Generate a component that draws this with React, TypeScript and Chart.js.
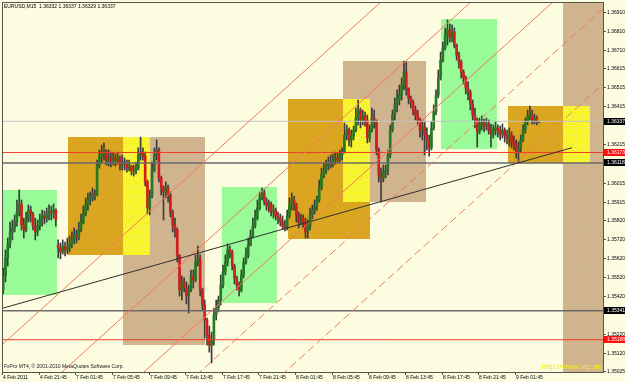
import React, { useEffect, useRef } from 'react';
import { Chart, registerables } from 'chart.js';

Chart.register(...registerables);

const symbolTitle = 'EURUSD,M15  1.36332 1.36337 1.36329 1.36337';
const copyrightText = 'FxPro MT4, \u00A9 2001-2010 MetaQuotes Software Corp.';
const watermarkText = 'http://www.vip.ae';

const timeLabels = ['4 Feb 2011', '4 Feb 21:45', '7 Feb 01:45', '7 Feb 05:45', '7 Feb 09:45', '7 Feb 13:45', '7 Feb 17:45', '7 Feb 21:45', '8 Feb 01:45', '8 Feb 05:45', '8 Feb 09:45', '8 Feb 13:45', '8 Feb 17:45', '8 Feb 21:45', '9 Feb 01:45'];
const timeLabelBars = [0, 16, 32, 48, 64, 80, 96, 112, 128, 144, 160, 176, 192, 208, 224];

const priceTicks = [1.36910, 1.36810, 1.36710, 1.36615, 1.36515, 1.36415, 1.36215, 1.36015, 1.35915, 1.35820, 1.35720, 1.35620, 1.35520, 1.35420, 1.35220, 1.35120, 1.35025];

const opens = [
  1.35450,1.35523,1.35618,1.35692,1.35755,1.35776,1.35807,1.35860,1.35902,1.35792,
  1.35765,1.35818,1.35870,1.35849,1.35786,1.35755,1.35786,1.35818,1.35839,1.35828,
  1.35849,1.35860,1.35855,1.35870,1.35686,1.35671,1.35650,1.35681,1.35660,1.35676,
  1.35692,1.35713,1.35734,1.35723,1.35765,1.35807,1.35849,1.35897,1.35923,1.35934,
  1.35955,1.35949,1.36107,1.36154,1.36165,1.36186,1.36133,1.36149,1.36123,1.36144,
  1.36133,1.36144,1.36107,1.36123,1.36112,1.36091,1.36102,1.36076,1.36081,1.36091,
  1.36160,1.36175,1.36154,1.36018,1.35881,1.35944,1.36081,1.36160,1.36186,1.36039,
  1.35986,1.35965,1.35986,1.35949,1.35860,1.35792,1.35765,1.35634,1.35450,1.35492,
  1.35460,1.35418,1.35450,1.35523,1.35502,1.35597,1.35618,1.35450,1.35371,1.35292,
  1.35213,1.35160,1.35187,1.35318,1.35355,1.35397,1.35476,1.35544,1.35597,1.35660,
  1.35650,1.35576,1.35513,1.35476,1.35450,1.35529,1.35597,1.35634,1.35686,1.35734,
  1.35786,1.35828,1.35881,1.35934,1.35960,1.35912,1.35891,1.35902,1.35860,1.35870,
  1.35839,1.35828,1.35807,1.35786,1.35776,1.35839,1.35897,1.35923,1.35902,1.35844,
  1.35807,1.35828,1.35807,1.35755,1.35786,1.35844,1.35870,1.35891,1.35923,1.35986,
  1.36055,1.36081,1.36102,1.36123,1.36107,1.36133,1.36144,1.36133,1.36160,1.36175,
  1.36265,1.36291,1.36239,1.36260,1.36291,1.36354,1.36396,1.36344,1.36365,1.36344,
  1.36249,1.36291,1.36354,1.36333,1.36186,1.36055,1.36039,1.36070,1.36081,1.36160,
  1.36291,1.36370,1.36423,1.36449,1.36475,1.36528,1.36596,1.36512,1.36460,1.36438,
  1.36396,1.36370,1.36344,1.36291,1.36312,1.36265,1.36239,1.36197,1.36302,1.36386,
  1.36475,1.36565,1.36659,1.36723,1.36791,1.36817,1.36775,1.36807,1.36738,1.36686,
  1.36649,1.36596,1.36565,1.36512,1.36491,1.36428,1.36370,1.36344,1.36281,1.36323,
  1.36333,1.36312,1.36323,1.36291,1.36270,1.36291,1.36302,1.36286,1.36270,1.36291,
  1.36260,1.36249,1.36265,1.36228,1.36212,1.36175,1.36197,1.36239,1.36291,1.36333,
  1.36365,1.36370,1.36344,1.36354,1.36332,
];

const highs = [
  1.35565,1.35660,1.35723,1.35807,1.35818,1.35844,1.35923,1.35976,1.35923,1.35828,
  1.35860,1.35897,1.35891,1.35860,1.35828,1.35818,1.35849,1.35870,1.35865,1.35881,
  1.35897,1.35891,1.35902,1.35876,1.35713,1.35697,1.35713,1.35702,1.35723,1.35734,
  1.35755,1.35776,1.35765,1.35807,1.35849,1.35891,1.35934,1.35960,1.35965,1.35986,
  1.35976,1.36133,1.36186,1.36212,1.36223,1.36186,1.36186,1.36175,1.36170,1.36165,
  1.36175,1.36154,1.36160,1.36144,1.36133,1.36133,1.36107,1.36107,1.36123,1.36197,
  1.36254,1.36197,1.36175,1.36028,1.35976,1.36123,1.36197,1.36239,1.36197,1.36049,
  1.35997,1.36018,1.36002,1.35965,1.35870,1.35828,1.35776,1.35634,1.35523,1.35513,
  1.35492,1.35476,1.35555,1.35555,1.35634,1.35681,1.35634,1.35460,1.35397,1.35302,
  1.35260,1.35229,1.35355,1.35397,1.35418,1.35529,1.35581,1.35634,1.35692,1.35681,
  1.35660,1.35586,1.35523,1.35492,1.35555,1.35618,1.35671,1.35723,1.35765,1.35828,
  1.35870,1.35923,1.35965,1.35986,1.35976,1.35934,1.35923,1.35912,1.35897,1.35881,
  1.35860,1.35849,1.35839,1.35818,1.35870,1.35934,1.35960,1.35944,1.35907,1.35860,
  1.35849,1.35844,1.35828,1.35818,1.35881,1.35897,1.35923,1.35944,1.36028,1.36091,
  1.36118,1.36133,1.36149,1.36160,1.36165,1.36175,1.36170,1.36186,1.36197,1.36328,
  1.36318,1.36302,1.36291,1.36312,1.36407,1.36449,1.36407,1.36396,1.36386,1.36370,
  1.36318,1.36407,1.36396,1.36344,1.36197,1.36091,1.36107,1.36107,1.36186,1.36318,
  1.36396,1.36460,1.36502,1.36528,1.36565,1.36654,1.36649,1.36512,1.36470,1.36449,
  1.36417,1.36396,1.36354,1.36344,1.36333,1.36302,1.36265,1.36333,1.36423,1.36502,
  1.36607,1.36701,1.36754,1.36828,1.36870,1.36849,1.36844,1.36828,1.36744,1.36701,
  1.36659,1.36607,1.36575,1.36544,1.36502,1.36449,1.36407,1.36354,1.36354,1.36365,
  1.36349,1.36354,1.36344,1.36323,1.36318,1.36333,1.36318,1.36312,1.36323,1.36302,
  1.36291,1.36302,1.36281,1.36260,1.36239,1.36228,1.36265,1.36318,1.36354,1.36396,
  1.36417,1.36396,1.36375,1.36365,1.36337,
];

const lows = [
  1.35429,1.35492,1.35576,1.35671,1.35713,1.35755,1.35786,1.35839,1.35765,1.35723,
  1.35755,1.35807,1.35807,1.35765,1.35713,1.35734,1.35765,1.35786,1.35797,1.35807,
  1.35818,1.35818,1.35828,1.35786,1.35618,1.35613,1.35639,1.35629,1.35639,1.35650,
  1.35671,1.35692,1.35697,1.35713,1.35755,1.35797,1.35839,1.35870,1.35897,1.35918,
  1.35923,1.35944,1.36091,1.36123,1.36133,1.36107,1.36102,1.36097,1.36107,1.36102,
  1.36112,1.36081,1.36081,1.36081,1.36070,1.36076,1.36055,1.36049,1.36060,1.36081,
  1.36133,1.36133,1.35997,1.35849,1.35844,1.35934,1.36070,1.36133,1.36018,1.35949,
  1.35818,1.35934,1.35912,1.35834,1.35755,1.35728,1.35597,1.35418,1.35397,1.35439,
  1.35376,1.35329,1.35439,1.35460,1.35492,1.35576,1.35418,1.35344,1.35197,1.35160,
  1.35123,1.35066,1.35160,1.35292,1.35334,1.35371,1.35460,1.35529,1.35576,1.35618,
  1.35555,1.35481,1.35450,1.35418,1.35439,1.35513,1.35586,1.35618,1.35681,1.35723,
  1.35776,1.35818,1.35870,1.35923,1.35897,1.35870,1.35860,1.35839,1.35828,1.35818,
  1.35797,1.35786,1.35771,1.35760,1.35765,1.35828,1.35870,1.35870,1.35807,1.35776,
  1.35792,1.35776,1.35723,1.35723,1.35765,1.35818,1.35849,1.35870,1.35912,1.35976,
  1.36039,1.36060,1.36081,1.36091,1.36097,1.36112,1.36118,1.36123,1.36133,1.36170,
  1.36239,1.36207,1.36202,1.36239,1.36281,1.36318,1.36302,1.36318,1.36312,1.36223,
  1.36228,1.36281,1.36302,1.36160,1.36018,1.35912,1.36018,1.36039,1.36055,1.36144,
  1.36281,1.36344,1.36386,1.36423,1.36449,1.36502,1.36475,1.36428,1.36407,1.36370,
  1.36344,1.36318,1.36254,1.36239,1.36160,1.36186,1.36154,1.36186,1.36291,1.36370,
  1.36460,1.36554,1.36649,1.36712,1.36738,1.36754,1.36754,1.36723,1.36659,1.36617,
  1.36565,1.36533,1.36481,1.36449,1.36396,1.36344,1.36302,1.36202,1.36270,1.36291,
  1.36281,1.36291,1.36270,1.36202,1.36249,1.36265,1.36254,1.36239,1.36249,1.36228,
  1.36218,1.36207,1.36197,1.36186,1.36144,1.36118,1.36175,1.36228,1.36275,1.36318,
  1.36344,1.36323,1.36323,1.36318,1.36329,
];

const closes = [
  1.35523,1.35618,1.35692,1.35755,1.35776,1.35807,1.35860,1.35902,1.35792,1.35765,
  1.35818,1.35870,1.35849,1.35786,1.35755,1.35786,1.35818,1.35839,1.35828,1.35849,
  1.35860,1.35855,1.35870,1.35818,1.35671,1.35650,1.35681,1.35660,1.35676,1.35692,
  1.35713,1.35734,1.35723,1.35765,1.35807,1.35849,1.35897,1.35923,1.35934,1.35955,
  1.35949,1.36107,1.36154,1.36165,1.36186,1.36133,1.36149,1.36123,1.36144,1.36133,
  1.36144,1.36107,1.36123,1.36112,1.36091,1.36102,1.36076,1.36081,1.36091,1.36160,
  1.36175,1.36154,1.36018,1.35881,1.35944,1.36081,1.36160,1.36186,1.36039,1.35986,
  1.35965,1.35986,1.35949,1.35860,1.35792,1.35765,1.35634,1.35450,1.35492,1.35460,
  1.35418,1.35450,1.35523,1.35502,1.35597,1.35618,1.35450,1.35371,1.35292,1.35213,
  1.35160,1.35187,1.35318,1.35355,1.35397,1.35476,1.35544,1.35597,1.35660,1.35650,
  1.35576,1.35513,1.35476,1.35450,1.35529,1.35597,1.35634,1.35686,1.35734,1.35786,
  1.35828,1.35881,1.35934,1.35960,1.35912,1.35891,1.35902,1.35860,1.35870,1.35839,
  1.35828,1.35807,1.35786,1.35776,1.35839,1.35897,1.35923,1.35902,1.35844,1.35807,
  1.35828,1.35807,1.35755,1.35786,1.35844,1.35870,1.35891,1.35923,1.35986,1.36055,
  1.36081,1.36102,1.36123,1.36107,1.36133,1.36144,1.36133,1.36160,1.36175,1.36265,
  1.36291,1.36239,1.36260,1.36291,1.36354,1.36396,1.36344,1.36365,1.36344,1.36249,
  1.36291,1.36354,1.36333,1.36186,1.36055,1.36039,1.36070,1.36081,1.36160,1.36291,
  1.36370,1.36423,1.36449,1.36475,1.36528,1.36596,1.36512,1.36460,1.36438,1.36396,
  1.36370,1.36344,1.36291,1.36312,1.36265,1.36239,1.36197,1.36302,1.36386,1.36475,
  1.36565,1.36659,1.36723,1.36791,1.36817,1.36775,1.36807,1.36738,1.36686,1.36649,
  1.36596,1.36565,1.36512,1.36491,1.36428,1.36370,1.36344,1.36281,1.36323,1.36333,
  1.36312,1.36323,1.36291,1.36270,1.36291,1.36302,1.36286,1.36270,1.36291,1.36260,
  1.36249,1.36265,1.36228,1.36212,1.36175,1.36197,1.36239,1.36291,1.36333,1.36365,
  1.36370,1.36344,1.36354,1.36332,1.36337,
];

// session zones (bar index range, price range)
const zoneStart = [-1, 95.5, 191.2, 28.3, 124.4, 220.4, 52.3, 148.4, 244.3, 52.3, 148.4, 244.3];
const zoneEnd = [23.5, 119.6, 215.6, 64.3, 160.2, 256.4, 88.1, 184.6, 280.3, 64.3, 160.2, 256.4];
const zoneHigh = [1.35976, 1.35991, 1.36875, 1.36254, 1.36454, 1.36417, 1.36254, 1.36654, 1.3710, 1.36254, 1.36454, 1.36417];
const zoneLow = [1.35423, 1.35381, 1.36191, 1.35634, 1.35718, 1.36116, 1.35160, 1.35912, 1.3490, 1.35634, 1.35912, 1.36116];
const zoneKind = ['green', 'green', 'green', 'orange', 'orange', 'orange', 'tan', 'tan', 'tan', 'yellow', 'yellow', 'yellow'];

// horizontal levels
const levelPrices = [1.36337, 1.36173, 1.36118, 1.35341, 1.35188];
const levelKind = ['bid', 'red', 'dark', 'dark', 'red'];

// trend line
const trendBars = [-0.5, 248.4];
const trendPrices = [1.35353, 1.36198];

// parallel channel lines
const channelFromBar = [-15.3, 24.0, 59.8, 84.2, 121.4];
const channelFromPrice = [1.3500, 1.3500, 1.3500, 1.3500, 1.3500];
const channelToBar = [168.2, 207.5, 243.3, 268.5, 304.8];
const channelToPrice = [1.3700, 1.3700, 1.3700, 1.3700, 1.3700];
const channelDashed = [false, false, false, true, true];

const X_MIN = -0.524;
const X_MAX = 261.92;
const Y_MIN = 1.350183;
const Y_MAX = 1.369645;

const BG = '#FCFCE1';
const FRAME = '#55554A';
const BULL = '#227A22';
const BEAR = '#D41C1C';
const WICK = '#3C3C3C';
const FONT = '"Liberation Sans", Arial, sans-serif';

export default function App() {
  const ref = useRef<HTMLCanvasElement>(null);

  useEffect(() => {
    document.body.style.margin = '0';
    const canvas = ref.current!;
    const mainCtx = canvas.getContext('2d')!;

    const makePattern = (base: string, dot: string, dots: number[][], size: number) => {
      const c = document.createElement('canvas');
      c.width = size;
      c.height = size;
      const g = c.getContext('2d')!;
      g.fillStyle = base;
      g.fillRect(0, 0, size, size);
      g.fillStyle = dot;
      dots.forEach(([dx, dy]) => g.fillRect(dx, dy, 1, 1));
      return mainCtx.createPattern(c, 'repeat') as CanvasPattern;
    };

    const fills: Record<string, string | CanvasPattern> = {
      green: '#98FB98',
      orange: '#DAA520',
      tan: makePattern('#D2B48C', '#C2B6A8', [[1, 2], [6, 0], [4, 5], [8, 7], [2, 8], [7, 4]], 10),
      yellow: makePattern('#F6F326', '#F9F88A', [[1, 2], [6, 0], [4, 5], [8, 7], [2, 8], [7, 4], [0, 5], [5, 9]], 10),
    };
    const drawOrder = ['green', 'orange', 'tan', 'yellow'];

    const mt4Plugin = {
      id: 'mt4',
      beforeDraw(chart: any) {
        const { ctx, width, height } = chart;
        ctx.save();
        ctx.fillStyle = BG;
        ctx.fillRect(0, 0, width, height);
        ctx.restore();
      },
      beforeDatasetsDraw(chart: any) {
        const { ctx, chartArea: a, scales } = chart;
        const xs = scales.x;
        const ys = scales.y;
        ctx.save();
        ctx.beginPath();
        ctx.rect(a.left, a.top, a.right - a.left, a.bottom - a.top);
        ctx.clip();
        drawOrder.forEach((kind) => {
          zoneKind.forEach((k, i) => {
            if (k !== kind) return;
            const x1 = Math.round(xs.getPixelForValue(zoneStart[i]));
            const x2 = Math.round(xs.getPixelForValue(zoneEnd[i]));
            const y1 = Math.round(ys.getPixelForValue(zoneHigh[i]));
            const y2 = Math.round(ys.getPixelForValue(zoneLow[i]));
            ctx.fillStyle = fills[kind];
            ctx.fillRect(x1, y1, x2 - x1, y2 - y1);
          });
        });
        ctx.restore();
      },
      afterDraw(chart: any) {
        const { ctx, chartArea: a, scales } = chart;
        const xs = scales.x;
        const ys = scales.y;
        ctx.save();
        ctx.strokeStyle = FRAME;
        ctx.lineWidth = 1;
        ctx.strokeRect(a.left + 0.5, a.top + 0.5, a.right - a.left, a.bottom - a.top);

        ctx.font = `5px ${FONT}`;
        ctx.textBaseline = 'middle';
        ctx.textAlign = 'left';
        ctx.fillStyle = '#000';
        priceTicks.forEach((p) => {
          const py = Math.round(ys.getPixelForValue(p)) + 0.5;
          ctx.beginPath();
          ctx.moveTo(a.right, py);
          ctx.lineTo(a.right + 3, py);
          ctx.stroke();
          ctx.fillText(p.toFixed(5), a.right + 4, py);
        });

        levelPrices.forEach((p, i) => {
          const kind = levelKind[i];
          const py = ys.getPixelForValue(p);
          ctx.fillStyle = kind === 'red' ? '#FF1010' : '#000000';
          ctx.fillRect(a.right + 1, Math.round(py - 3.5), 21, 7);
          ctx.fillStyle = '#FFFFFF';
          ctx.fillText(p.toFixed(5), a.right + 4, py);
        });

        ctx.fillStyle = '#000';
        timeLabelBars.forEach((b, i) => {
          const px = Math.round(xs.getPixelForValue(b) - 1.2) + 0.5;
          ctx.beginPath();
          ctx.moveTo(px, a.bottom);
          ctx.lineTo(px, a.bottom + 3);
          ctx.stroke();
          ctx.fillText(timeLabels[i], px + 0.5, a.bottom + 5.5);
        });

        ctx.fillStyle = '#000';
        ctx.fillText(symbolTitle, 4, 6.5);
        ctx.fillStyle = '#202020';
        ctx.fillText(copyrightText, 4, a.bottom - 5.5);
        ctx.font = `8px ${FONT}`;
        ctx.textAlign = 'right';
        ctx.fillStyle = '#F2F20A';
        ctx.fillText(watermarkText, a.right - 1, a.bottom - 5);
        ctx.restore();
      },
    };

    const lineDs = (pts: { x: number; y: number }[], color: string, width: number, dash: number[], order: number) => ({
      type: 'line' as const,
      data: pts,
      borderColor: color,
      borderWidth: width,
      borderDash: dash,
      pointRadius: 0,
      fill: false,
      tension: 0,
      order,
      clip: 0,
    });

    const levelColor: Record<string, string> = { bid: '#C4C4C4', red: '#F03A2A', dark: '#6A6A6A' };
    const levelWidth: Record<string, number> = { bid: 1, red: 1, dark: 1.5 };

    const datasets: any[] = [
      {
        type: 'bar',
        data: highs.map((h, i) => ({ x: i, y: [lows[i], h] })),
        backgroundColor: WICK,
        barThickness: 1,
        grouped: false,
        order: 6,
        clip: 0,
      },
      {
        type: 'bar',
        data: closes.map((c, i) => ({ x: i, y: [opens[i], c] })),
        backgroundColor: closes.map((c, i) => (c >= opens[i] ? BULL : BEAR)),
        barThickness: 2,
        grouped: false,
        minBarLength: 1,
        order: 5,
        clip: 0,
      },
    ];
    levelPrices.forEach((p, i) => {
      datasets.push(lineDs([{ x: -5, y: p }, { x: 270, y: p }], levelColor[levelKind[i]], levelWidth[levelKind[i]], [], 3));
    });
    channelFromBar.forEach((b, i) => {
      datasets.push(lineDs(
        [{ x: b, y: channelFromPrice[i] }, { x: channelToBar[i], y: channelToPrice[i] }],
        '#F4785A', 1, channelDashed[i] ? [8, 4] : [], 2));
    });
    datasets.push(lineDs(
      [{ x: trendBars[0], y: trendPrices[0] }, { x: trendBars[1], y: trendPrices[1] }],
      '#303030', 1, [], 1));

    const chart = new Chart(canvas, {
      type: 'bar',
      data: { datasets },
      options: {
        responsive: false,
        animation: false,
        devicePixelRatio: 1,
        events: [],
        layout: { padding: { left: 2, top: 2, right: 22, bottom: 10 } },
        plugins: { legend: { display: false }, tooltip: { enabled: false } },
        scales: {
          x: { type: 'linear', display: false, min: X_MIN, max: X_MAX, offset: false },
          y: { type: 'linear', display: false, min: Y_MIN, max: Y_MAX, beginAtZero: false },
        },
      } as any,
      plugins: [mt4Plugin],
    });

    return () => chart.destroy();
  }, []);

  return (
    <div style={{ position: 'fixed', left: 0, top: 0, width: 625, height: 382 }}>
      <canvas ref={ref} width={625} height={382} style={{ display: 'block', width: 625, height: 382 }} />
    </div>
  );
}
